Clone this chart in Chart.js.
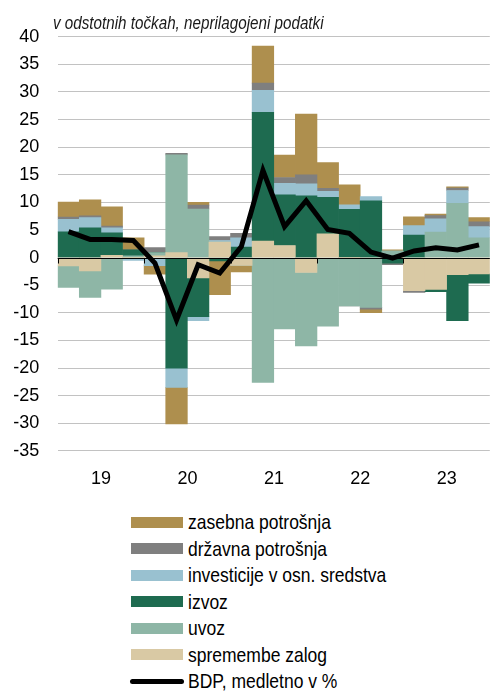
<!DOCTYPE html>
<html>
<head>
<meta charset="utf-8">
<script src="https://cdn.jsdelivr.net/npm/chart.js@4/dist/chart.umd.min.js"></script>
<style>
  html, body { margin: 0; padding: 0; width: 490px; height: 691px; overflow: hidden; background: #fff; }
  #wrap { position: relative; width: 490px; height: 691px; overflow: hidden; }
  #title { position: absolute; left: 53px; top: 13px; line-height: 18px; white-space: nowrap;
           transform: scaleX(0.845); transform-origin: 0 0;
           font: italic 18px 'Liberation Sans', Arial, sans-serif; color: #1a1a1a; }
  #c { position: absolute; left: 0; top: 0; }
  #legend { position: absolute; left: 130px; top: 509px;
            font: 21px 'Liberation Sans', Arial, sans-serif; color: #000; }
  .row { display: flex; align-items: center; height: 26.5px; white-space: nowrap; }
  .sw { width: 52px; height: 11px; margin-right: 5px; margin-left: 1px; flex: none; }
  .ln { width: 54px; height: 5px; border-radius: 3px; background: #000; margin-right: 4px; flex: none; }
  .tx { display: inline-block; transform: scaleX(0.833); transform-origin: 0 50%; }
</style>
</head>
<body>
<div id="wrap">
  <canvas id="c" width="496" height="500"></canvas>
  <div id="title">v odstotnih točkah, neprilagojeni podatki</div>
  <div id="legend"></div>
</div>
<script>
// ---- data (percentage points) ----
const quarters = ['2019Q1','2019Q2','2019Q3','2019Q4','2020Q1','2020Q2','2020Q3','2020Q4',
                  '2021Q1','2021Q2','2021Q3','2021Q4','2022Q1','2022Q2','2022Q3','2022Q4',
                  '2023Q1','2023Q2','2023Q3','2023Q4'];
const yearLabels = ['19', '20', '21', '22', '23'];

const spremembeZalog = [-1.5, -2.4, 0.4, 0, 0.3, 0.9, -3.7, 2.8, -1.4, 3.0, 2.2, -2.7, 4.3, 0, -0.2, 0, -6.0, -5.75, -3.1, -2.95];
const uvoz           = [-3.9, -4.8, -5.7, 0.3, 0.6, 17.7, 8.8, 0, 0, -22.6, -12.9, -13.3, -12.4, -8.75, -8.8, 1.2, 0, 4.6, 9.85, 3.6];
const izvoz          = [4.65, 5.4, 4.1, 1.1, 0, -20.0, -7.0, -0.6, 1.9, 23.3, 9.15, 11.2, 6.6, 8.75, 10.3, -1.0, 4.1, -0.4, -8.3, -1.7];
const investicije    = [2.3, 1.85, 0.9, -0.5, -1.45, -3.5, -0.7, 0.3, 1.7, 4.0, 2.1, 2.15, 1.1, 0.8, 0.75, 0, 1.7, 2.4, 2.3, 2.0];
const drzavna        = [0.4, 0.3, 0.3, 0, 0.9, 0.3, 0.7, 0.7, 0.8, 1.3, 1.05, 1.65, 0.55, 0, -0.35, -0.3, -0.3, 0.6, 0.45, 0.9];
const zasebna        = [2.7, 2.9, 3.5, 2.2, -1.55, -6.6, 0.5, -6.1, -1.2, 6.7, 4.05, 11.0, 4.65, 3.65, -0.6, 0.2, 1.6, 0.3, 0.2, 0.75];
const bdp            = [4.7, 3.3, 3.3, 3.1, -1.0, -11.3, -1.3, -2.8, 2.0, 15.8, 5.6, 10.3, 5.1, 4.4, 1.0, -0.1, 1.2, 1.8, 1.4, 2.3];

const yTicks = { min: -35, max: 40, step: 5 };

const FONT = "'Liberation Sans', Arial, sans-serif";

const COLORS = {
  zasebna: '#AE8F4E',
  drzavna: '#7F7F7F',
  investicije: '#99C1D0',
  izvoz: '#1E6B50',
  uvoz: '#8EB6A6',
  zalog: '#D9C9A4'
};

function barDs(label, data, color) {
  return { type: 'bar', label, data, backgroundColor: color, borderWidth: 0,
           categoryPercentage: 1.0, barPercentage: 1.0, order: 1, stack: 'bars' };
}

const zeroAxisPlugin = {
  id: 'zeroAxis',
  afterDatasetsDraw(chart) {
    const { ctx, chartArea, scales } = chart;
    const x = scales.x, y = scales.y;
    const y0 = Math.round(y.getPixelForValue(0)) + 0.5;
    const half = (x.getPixelForValue(1) - x.getPixelForValue(0)) / 2;
    ctx.save();
    ctx.strokeStyle = '#000';
    ctx.lineWidth = 1;
    ctx.beginPath();
    ctx.moveTo(chartArea.left, y0);
    ctx.lineTo(chartArea.right, y0);
    for (let i = 0; i < quarters.length; i += 4) {
      const px = Math.round(x.getPixelForValue(i) - half) + 0.5;
      ctx.moveTo(px, y0);
      ctx.lineTo(px, y0 + 5);
    }
    ctx.stroke();
    ctx.restore();
  }
};

const chart = new Chart(document.getElementById('c'), {
  type: 'bar',
  data: {
    labels: quarters,
    datasets: [
      barDs('spremembe zalog', spremembeZalog, COLORS.zalog),
      barDs('uvoz', uvoz, COLORS.uvoz),
      barDs('izvoz', izvoz, COLORS.izvoz),
      barDs('investicije v osn. sredstva', investicije, COLORS.investicije),
      barDs('državna potrošnja', drzavna, COLORS.drzavna),
      barDs('zasebna potrošnja', zasebna, COLORS.zasebna),
      { type: 'line', label: 'BDP, medletno v %', data: bdp, borderColor: '#000', backgroundColor: '#000',
        borderWidth: 5, pointRadius: 0, pointHoverRadius: 0, tension: 0, fill: false, order: 0, stack: 'bdp',
        borderJoinStyle: 'miter', borderCapStyle: 'butt' }
    ]
  },
  options: {
    responsive: false,
    maintainAspectRatio: false,
    animation: false,
    layout: { padding: { top: 36.7, left: 0, right: 0, bottom: 0 } },
    plugins: { legend: { display: false }, tooltip: { enabled: false }, title: { display: false } },
    scales: {
      x: {
        stacked: true,
        grid: { display: false, drawTicks: false },
        border: { display: false },
        ticks: {
          autoSkip: false, maxRotation: 0, minRotation: 0, padding: 17, labelOffset: 11,
          color: '#000', font: { family: FONT, size: 18 },
          callback: (v, i) => (i % 4 === 1 ? yearLabels[Math.floor(i / 4)] : '')
        },
        afterFit: (s) => { s.height = 49.1; }
      },
      y: {
        stacked: true,
        min: yTicks.min, max: yTicks.max,
        grid: { drawTicks: false, lineWidth: 1,
                color: (c) => (c.tick && c.tick.value === 0 ? 'rgba(0,0,0,0)' : '#c2c2c2') },
        border: { display: false },
        ticks: { stepSize: yTicks.step, autoSkip: false, padding: 18.5, color: '#000',
                 font: { family: FONT, size: 18 } },
        afterFit: (s) => { s.width = 57.7; }
      }
    }
  },
  plugins: [zeroAxisPlugin]
});

// HTML legend built from chart datasets (legend order: top of stack first, line last)
const legendEl = document.getElementById('legend');
const ds = chart.data.datasets;
const barItems = ds.filter(d => d.type === 'bar').reverse();
const lineItems = ds.filter(d => d.type === 'line');
barItems.concat(lineItems).forEach(d => {
  const row = document.createElement('div');
  row.className = 'row';
  const sw = document.createElement('div');
  if (d.type === 'line') { sw.className = 'ln'; sw.style.background = d.borderColor; }
  else { sw.className = 'sw'; sw.style.background = d.backgroundColor; }
  const tx = document.createElement('span');
  tx.className = 'tx';
  tx.textContent = d.label;
  row.appendChild(sw); row.appendChild(tx);
  legendEl.appendChild(row);
});
</script>
</body>
</html>
